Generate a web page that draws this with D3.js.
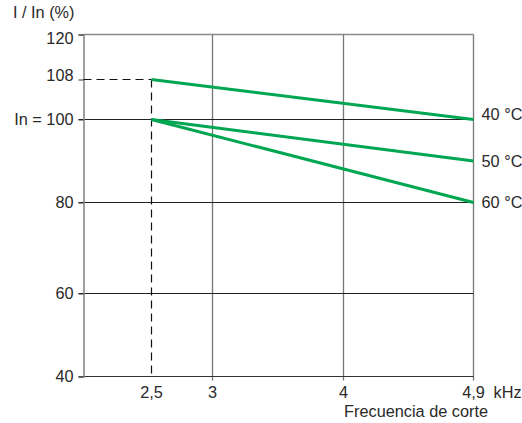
<!DOCTYPE html>
<html><head><meta charset="utf-8">
<script src="https://cdn.jsdelivr.net/npm/d3@7"></script>
<style>body{margin:0;background:#fff}svg{display:block;font-family:"Liberation Sans",Arial,sans-serif}</style>
</head><body><svg id="c" width="522" height="423"></svg>
<script>
// ---- data ----
const xTicks = [2.5, 3, 4, 4.9];
const xTickLabels = ["2,5", "3", "4", "4,9"];
const yTicks = [40, 60, 80, 100, 108, 120];
const yTickLabels = ["40", "60", "80", "In = 100", "108", "120"];
const seriesNames = ["40 °C", "50 °C", "60 °C"];
const seriesStart = [108, 100, 100];   // value at 2,5 kHz
const seriesEnd = [100, 90, 80];       // value at 4,9 kHz
const freqStart = 2.5, freqEnd = 4.9;
const refLevel = 108;
const yTitle = "I / In (%)";
const xUnit = "kHz";
const xTitle = "Frecuencia de corte";

// ---- layout ----
const svg = d3.select("#c");
const pL = 83.5, pR = 473.5, pT = 34.5, pB = 376.5;
const x = d3.scaleLinear().domain(xTicks).range([151.5, 212.5, 343.5, 473.5]);
const y = d3.scaleLinear().domain(yTicks).range([376.5, 293.5, 202.5, 119.5, 79.5, 34.5]);
const fs = 16.3;
const txt = "#2a2a2a";

// top border
svg.append("line").attr("x1", pL).attr("x2", pR).attr("y1", pT).attr("y2", pT)
  .attr("stroke", "#8a8a8a").attr("stroke-width", 1.5);

// vertical grid lines (3, 4, 4.9)
[3, 4, 4.9].forEach(v => {
  svg.append("line").attr("x1", x(v)).attr("x2", x(v)).attr("y1", pT).attr("y2", pB + 4)
    .attr("stroke", "#777").attr("stroke-width", 1.3);
});
// horizontal grid lines (60, 80, 100)
[60, 80, 100].forEach(v => {
  svg.append("line").attr("x1", pL - 5).attr("x2", pR).attr("y1", y(v)).attr("y2", y(v))
    .attr("stroke", "#222").attr("stroke-width", 1.1);
});
// bottom axis line
svg.append("line").attr("x1", pL - 5).attr("x2", pR).attr("y1", y(40)).attr("y2", y(40))
  .attr("stroke", "#333").attr("stroke-width", 1.2);
// left axis
const yAxis = d3.axisLeft(y).tickValues(yTicks).tickSize(5).tickPadding(5)
  .tickFormat((d, i) => yTickLabels[i]);
const gy = svg.append("g").attr("transform", `translate(${pL},0)`).call(yAxis);
gy.select(".domain").attr("stroke", "#888").attr("stroke-width", 1.6);
gy.selectAll(".tick line").attr("stroke", "#333");
gy.selectAll(".tick text").attr("font-size", fs).attr("font-family", "Liberation Sans, Arial, sans-serif")
  .attr("fill", txt)
  .attr("transform", d => d === 120 ? "translate(0,4)" : d === 108 ? "translate(0,-4)" : null);

// x tick labels
const gx = svg.append("g");
gx.selectAll("text").data(xTicks).join("text")
  .attr("x", d => x(d)).attr("y", 398).attr("text-anchor", "middle")
  .attr("font-size", fs).attr("fill", txt)
  .text((d, i) => xTickLabels[i]);
gx.append("text").attr("x", x(4.9) + 20).attr("y", 398).attr("font-size", fs).attr("fill", txt).text(xUnit);
svg.append("text").attr("x", 488).attr("y", 417).attr("text-anchor", "end")
  .attr("font-size", fs).attr("fill", txt).text(xTitle);
svg.append("text").attr("x", 13).attr("y", 18).attr("font-size", fs).attr("fill", txt).text(yTitle);

// dashed reference lines
svg.append("line").attr("x1", pL).attr("x2", x(freqStart)).attr("y1", y(refLevel)).attr("y2", y(refLevel))
  .attr("stroke", "#111").attr("stroke-width", 1.2).attr("stroke-dasharray", "8,5");
svg.append("line").attr("x1", x(freqStart)).attr("x2", x(freqStart)).attr("y1", y(refLevel)).attr("y2", y(40))
  .attr("stroke", "#111").attr("stroke-width", 1.2).attr("stroke-dasharray", "8,5");

// series lines
const line = d3.line().x(d => x(d[0])).y(d => y(d[1]));
seriesNames.forEach((name, i) => {
  svg.append("path").datum([[freqStart, seriesStart[i]], [freqEnd, seriesEnd[i]]])
    .attr("d", line).attr("fill", "none").attr("stroke", "#00a651").attr("stroke-width", 3);
  svg.append("text").attr("x", x(freqEnd) + 8).attr("y", y(seriesEnd[i]) + (i === 0 ? 0.5 : 5.5))
    .attr("font-size", fs).attr("fill", txt).text(name);
});
</script></body></html>
